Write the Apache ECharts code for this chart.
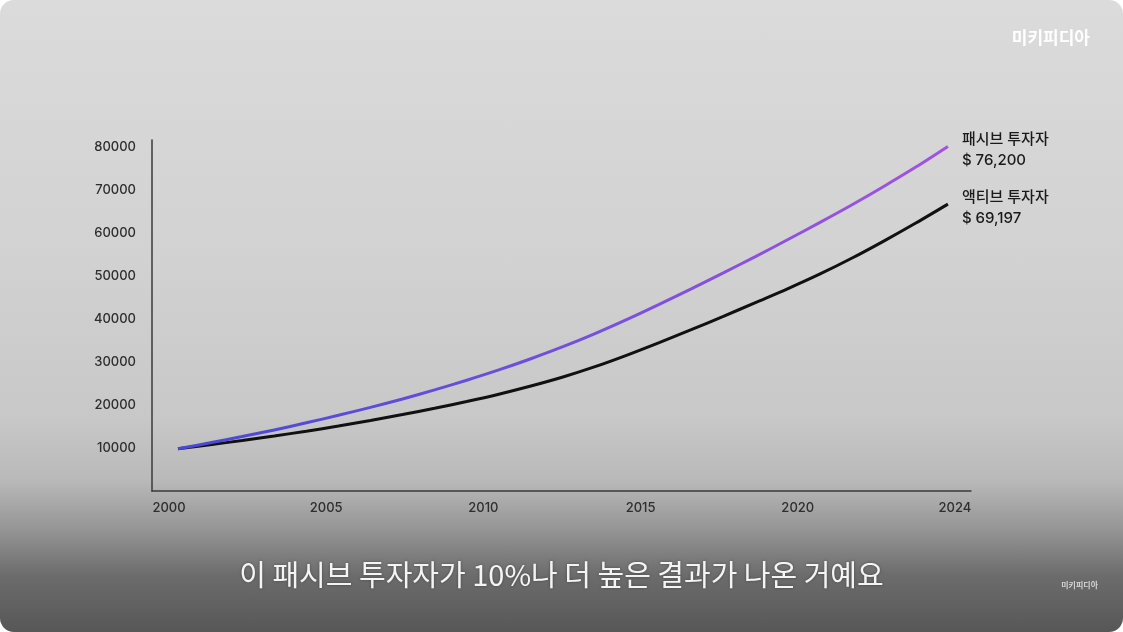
<!DOCTYPE html>
<html>
<head>
<meta charset="utf-8">
<script src="https://cdn.jsdelivr.net/npm/echarts@6/dist/echarts.min.js"></script>
<style>
  html, body { margin: 0; padding: 0; background: #ffffff; }
  .frame {
    width: 1123px;
    height: 632px;
    border-radius: 14px;
    overflow: hidden;
    background: linear-gradient(to bottom, #dbdbdb 0%, #d2d2d2 40%, #c8c8c8 66%, #b9b9b9 76%, #949494 84%, #6c6c6c 91%, #575757 100%);
  }
  #chart { width: 1123px; height: 632px; }
</style>
</head>
<body>
<div class="frame"><div id="chart"></div></div>
<script>
// --- 데이터 ---
const years = [2000, 2001, 2002, 2003, 2004, 2005, 2006, 2007, 2008, 2009, 2010, 2011, 2012,
  2013, 2014, 2015, 2016, 2017, 2018, 2019, 2020, 2021, 2022, 2023, 2024]
const passiveValues = [9800, 11200, 12650, 14200, 15850, 17600, 19450, 21400, 23500, 25750, 28150, 30750, 33550,
  36600, 39900, 43400, 47000, 50700, 54500, 58400, 62400, 66500, 70800, 75300, 80100]
const activeValues = [9800, 10750, 11750, 12800, 13900, 15100, 16400, 17780, 19240, 20800, 22500, 24400, 26500,
  28900, 31600, 34500, 37500, 40600, 43800, 47000, 50400, 54100, 58100, 62300, 66700]
const seriesNames = ['패시브 투자자', '액티브 투자자']
const endAmounts = ['$ 76,200', '$ 69,197']
const yTicks = [10000, 20000, 30000, 40000, 50000, 60000, 70000, 80000]
const xTickValues = [2000, 2005, 2010, 2015, 2020, 2025]
const xTickLabels = ['2000', '2005', '2010', '2015', '2020', '2024']
const subtitle = '이 패시브 투자자가 10%나 더 높은 결과가 나온 거예요'
const brand = '미키피디아'

const toPoints = (vals) => years.map((y, i) => [y, vals[i]])

const chart = echarts.init(document.getElementById('chart'))
const font = 'Inter, "Noto Sans CJK KR", sans-serif'

const endLabel = (i) => ({
  show: true,
  formatter: () => seriesNames[i] + '\n' + endAmounts[i],
  distance: 14,
  offset: [0, 4],
  color: '#1a1a1a',
  fontSize: 15,
  fontWeight: 500,
  lineHeight: 21,
  fontFamily: font,
  align: 'left'
})

chart.setOption({
  backgroundColor: 'transparent',
  animation: false,
  grid: { left: 152, right: 152, top: 140, bottom: 141 },
  xAxis: [
    {
      // 데이터용 축
      type: 'value',
      min: 1999.19,
      max: 2024.72,
      axisLine: { show: true, onZero: false, lineStyle: { color: '#3a3a3a', width: 1.5 } },
      axisTick: { show: false },
      axisLabel: { show: false },
      splitLine: { show: false }
    },
    {
      // 눈금 라벨용 축
      type: 'value',
      position: 'bottom',
      min: 1999.46,
      max: 2025.51,
      axisLine: { show: false },
      axisTick: { show: false },
      splitLine: { show: false },
      axisLabel: {
        customValues: xTickValues,
        formatter: (v) => xTickLabels[xTickValues.indexOf(v)] || '',
        margin: 11,
        color: '#2e2e2e',
        fontSize: 13,
        fontWeight: 500,
        fontFamily: font
      }
    }
  ],
  yAxis: {
    type: 'value',
    min: 0,
    max: 81600,
    axisLine: { show: true, lineStyle: { color: '#3a3a3a', width: 1.5 } },
    axisTick: { show: false },
    splitLine: { show: false },
    axisLabel: {
      customValues: yTicks,
      formatter: (v) => String(v),
      margin: 16,
      color: '#2e2e2e',
      fontSize: 13,
      fontWeight: 500,
      fontFamily: font
    }
  },
  series: [
    {
      name: seriesNames[0],
      type: 'line',
      xAxisIndex: 0,
      data: toPoints(passiveValues),
      smooth: 0.3,
      showSymbol: false,
      lineStyle: {
        width: 3,
        color: new echarts.graphic.LinearGradient(0, 0, 1, 0, [
          { offset: 0, color: '#4848d4' },
          { offset: 0.5, color: '#7250dc' },
          { offset: 1, color: '#a452e2' }
        ])
      },
      endLabel: endLabel(0),
      z: 3
    },
    {
      name: seriesNames[1],
      type: 'line',
      xAxisIndex: 0,
      data: toPoints(activeValues),
      smooth: 0.3,
      showSymbol: false,
      lineStyle: { width: 3, color: '#111' },
      endLabel: endLabel(1),
      z: 2
    }
  ],
  graphic: [
    {
      type: 'text',
      left: 'center',
      top: 560,
      style: {
        text: subtitle,
        fill: '#f4f4f4',
        fontSize: 29,
        fontFamily: '"Noto Sans CJK KR", sans-serif',
        textShadowColor: 'rgba(0,0,0,0.35)',
        textShadowBlur: 3
      }
    },
    {
      type: 'text',
      right: 33,
      top: 29,
      style: {
        text: brand,
        fill: '#ffffff',
        fontSize: 17,
        fontWeight: 'bold',
        fontFamily: '"Noto Sans CJK KR", sans-serif'
      }
    },
    {
      type: 'text',
      right: 25,
      top: 581,
      style: {
        text: brand,
        fill: 'rgba(235,235,235,0.8)',
        fontSize: 8,
        fontWeight: 'bold',
        fontFamily: '"Noto Sans CJK KR", sans-serif'
      }
    }
  ]
})
</script>
</body>
</html>
